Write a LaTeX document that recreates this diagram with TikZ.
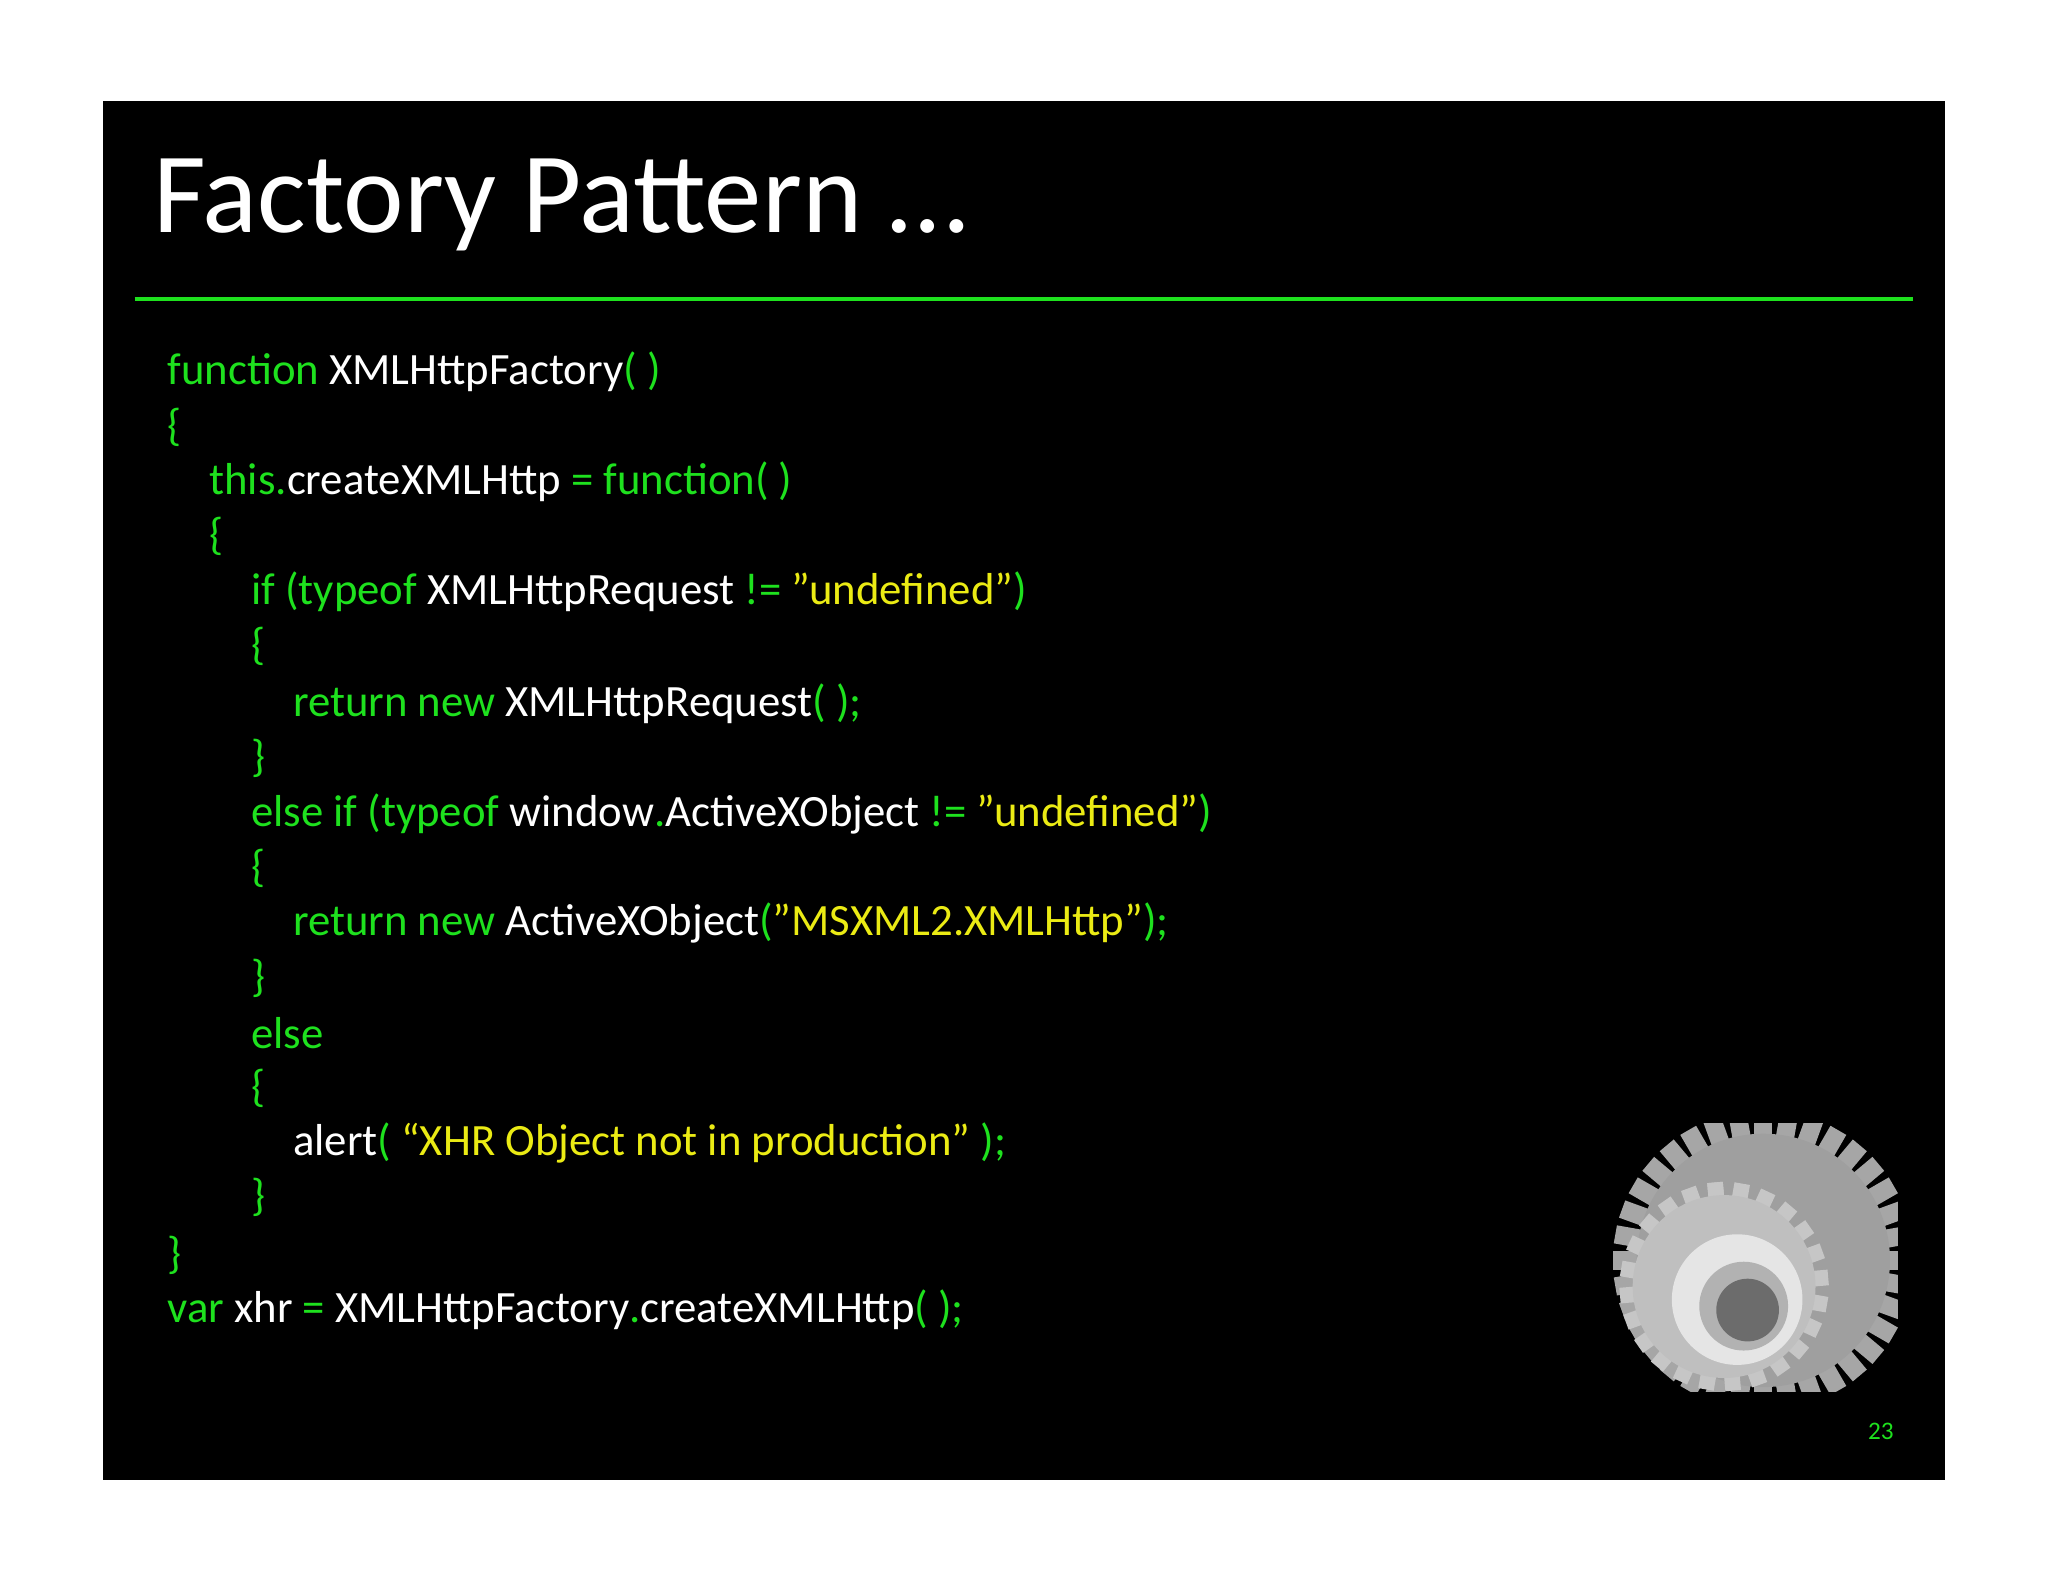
\documentclass[tikz,border=0pt]{standalone}
\usepackage{fontspec}
\setmainfont{Carlito}
\definecolor{cg}{RGB}{30,225,30}
\definecolor{cy}{RGB}{235,235,20}
\newcommand{\G}[1]{\textcolor{cg}{#1}}
\newcommand{\W}[1]{\textcolor{white}{#1}}
\newcommand{\Y}[1]{\textcolor{cy}{#1}}
\begin{document}
\begin{tikzpicture}[x=0.02cm,y=-0.02cm,
  code/.style={anchor=west,inner sep=0pt,font=\fontsize{19.5pt}{23pt}\selectfont,text=cg}]
\useasboundingbox (0,0) rectangle (1568,1212);
\fill[white] (0,0) rectangle (1568,1212);
\fill[black] (79,77) rectangle (1489,1133);
\node[anchor=west,inner sep=0pt,text=white,font=\fontsize{50pt}{60pt}\selectfont] (title) at (117,157) {Factory Pattern …};
\draw[cg,line width=2pt] (103,229) coordinate (r1) -- (1465,229) coordinate (r2);
\newcommand{\ind}{32}
\node[code] (l1) at (128,285) {function \W{XMLHttpFactory}( )};
\node[code] (l2) at (128,327) {\{};
\node[code] (l3) at (160,369) {this.\W{createXMLHttp} = function( )};
\node[code] (l4) at (160,411) {\{};
\node[code] (l5) at (192,453) {if (typeof \W{XMLHttpRequest} != \Y{"undefined"})};
\node[code] (l6) at (192,495) {\{};
\node[code] (l7) at (224,539) {return new \W{XMLHttpRequest}( );};
\node[code] (l8) at (192,581) {\}};
\node[code] (l9) at (192,623) {else if (typeof \W{window}.\W{ActiveXObject} != \Y{"undefined"})};
\node[code] (l10) at (192,665) {\{};
\node[code] (l11) at (224,707) {return new \W{ActiveXObject}(\Y{"MSXML2.XMLHttp"});};
\node[code] (l12) at (192,749) {\}};
\node[code] (l13) at (192,791) {else};
\node[code] (l14) at (192,833) {\{};
\node[code] (l15) at (224,875) {\W{alert}( \Y{“XHR Object not in production”} );};
\node[code] (l16) at (192,917) {\}};
\node[code] (l17) at (128,961) {\}};
\node[code] (l18) at (128,1003) {var \W{xhr} = \W{XMLHttpFactory}.\W{createXMLHttp}( );};
\node[anchor=center,inner sep=0pt,text=cg,font=\fontsize{11pt}{13pt}\selectfont] (num) at (1440,1096) {23};
% gear
\begin{scope}
\clip (1230,860) rectangle (1453,1065);
\foreach \a in {0,10,...,350}
  \fill[gray!70,rotate around={\a:(1350,965)}] (1343,850) rectangle (1357,870);
\fill[gray!75] (1350,965) circle (97);
\foreach \a in {5,20,...,365}
  \fill[gray!45,rotate around={\a:(1320,985)}] (1314,905) rectangle (1326,918);
\fill[gray!50] (1320,985) circle (70);
\fill[gray!20] (1330,995) circle (50);
\fill[gray!60] (1335,1000) circle (34);
\fill[gray!85!black] (1338,1003) circle (24);
\end{scope}
\end{tikzpicture}
\end{document}
